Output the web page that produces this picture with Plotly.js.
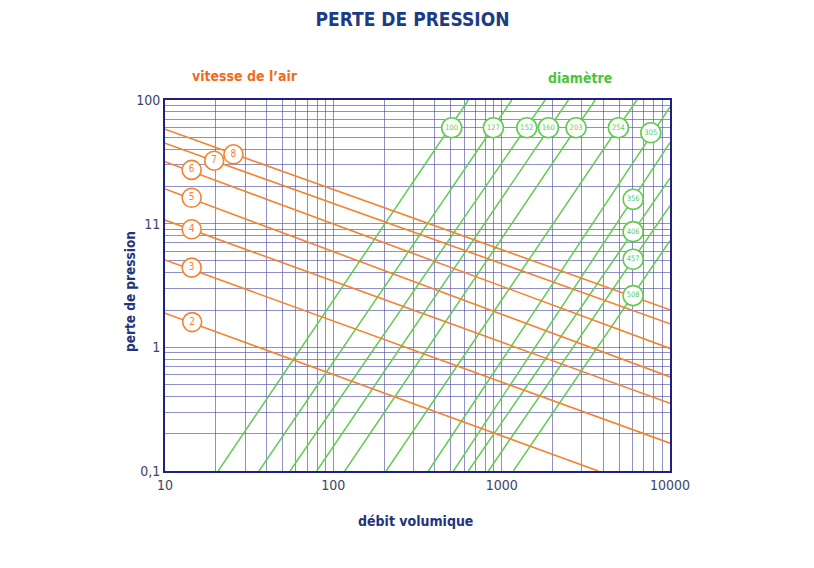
<!DOCTYPE html>
<html>
<head>
<meta charset="utf-8">
<script src="https://cdn.plot.ly/plotly-3.0.1.min.js"></script>
<style>
  html, body { margin: 0; padding: 0; background: #ffffff; }
  #chart { width: 814px; height: 568px; }
</style>
</head>
<body>
<div id="chart"></div>
<script>
// ---- Data ----
// Orange lines: air velocity (m/s)
var velocityLabels = ['2', '3', '4', '5', '6', '7', '8'];
var velStartFlow = [10, 10, 10, 10, 10, 10, 10];
var velStartLoss = [1.89, 5.09, 10.7, 19.1, 31.7, 44.7, 58.0];
var velEndFlow   = [3750, 10000, 10000, 10000, 10000, 10000, 10000];
var velEndLoss   = [0.1, 0.168, 0.353, 0.576, 0.98, 1.55, 2.01];
var velLabelFlow = [14.5, 14.4, 14.4, 14.4, 14.4, 19.6, 25.5];
var velLabelLoss = [1.60, 4.41, 9.01, 16.2, 27.2, 32.3, 36.4];

// Green lines: duct diameter (mm)
var diamLabels    = ['100', '127', '152', '160', '203', '254', '305', '356', '406', '457', '508'];
var diamStartFlow = [20.7, 36.2, 55.3, 79.7, 117, 206, 367, 517, 634, 834, 1173];
var diamStartLoss = [0.1, 0.1, 0.1, 0.1, 0.1, 0.1, 0.1, 0.1, 0.1, 0.1, 0.1];
var diamEndFlow   = [634, 1148, 1811, 2490, 3589, 6350, 10000, 10000, 10000, 10000, 10000];
var diamEndLoss   = [100, 100, 100, 100, 100, 100, 87.8, 45.2, 23.3, 14.0, 7.29];
var diamLabelFlow = [505, 893, 1410, 1895, 2767, 4937, 7691, 6039, 6039, 6039, 6039];
var diamLabelLoss = [59.7, 59.7, 59.7, 59.7, 59.7, 59.7, 54.4, 15.75, 8.62, 5.16, 2.62];

// Axis tick labels
var xTickValues = [10, 100, 1000, 10000];
var xTickLabels = ['10', '100', '1000', '10000'];
var yTickValues = [0.1, 1, 10, 100];
var yTickLabels = ['0,1', '1', '11', '100'];

// ---- Styles ----
var ORANGE = '#f5822e';
var GREEN = '#62cc52';
var NAVY = '#23357a';
var GRID = 'rgba(70,70,160,0.6)';
var FRAME = '#1f1f86';
var FONT = '"DejaVu Sans Condensed", "Liberation Sans Narrow", Roboto, sans-serif';

// grid values: all 1..9 multiples in each decade, labels only at decades
function logGrid(minExp, maxExp, labVals, labTexts) {
  var vals = [], texts = [];
  for (var e = minExp; e <= maxExp; e++) {
    for (var m = 1; m <= 9; m++) {
      if (e === maxExp && m > 1) break;
      var v = parseFloat((m * Math.pow(10, e)).toPrecision(6));
      vals.push(v);
      var idx = -1;
      for (var k = 0; k < labVals.length; k++) {
        if (Math.abs(labVals[k] - v) / v < 1e-6) idx = k;
      }
      texts.push(idx >= 0 ? labTexts[idx] : '');
    }
  }
  return {vals: vals, texts: texts};
}
var xg = logGrid(1, 4, xTickValues, xTickLabels);
var yg = logGrid(-1, 2, yTickValues, yTickLabels);

var traces = [];
// green diameter lines
for (var i = 0; i < diamLabels.length; i++) {
  traces.push({
    type: 'scatter', mode: 'lines',
    x: [diamStartFlow[i], diamEndFlow[i]],
    y: [diamStartLoss[i], diamEndLoss[i]],
    line: {color: GREEN, width: 1.5},
    hoverinfo: 'skip', showlegend: false
  });
}
// orange velocity lines
for (var j = 0; j < velocityLabels.length; j++) {
  traces.push({
    type: 'scatter', mode: 'lines',
    x: [velStartFlow[j], velEndFlow[j]],
    y: [velStartLoss[j], velEndLoss[j]],
    line: {color: ORANGE, width: 1.6},
    hoverinfo: 'skip', showlegend: false
  });
}
// labels
traces.push({
  type: 'scatter', mode: 'markers+text',
  x: diamLabelFlow, y: diamLabelLoss, text: diamLabels,
  textposition: 'middle center',
  textfont: {family: FONT, size: 7.5, color: GREEN},
  marker: {symbol: 'circle', size: 20, color: '#ffffff', line: {color: GREEN, width: 1.6}},
  hoverinfo: 'skip', showlegend: false, cliponaxis: false
});
traces.push({
  type: 'scatter', mode: 'markers+text',
  x: velLabelFlow, y: velLabelLoss, text: velocityLabels,
  textposition: 'middle center',
  textfont: {family: FONT, size: 10, color: ORANGE},
  marker: {symbol: 'circle', size: 19, color: '#ffffff', line: {color: ORANGE, width: 1.6}},
  hoverinfo: 'skip', showlegend: false, cliponaxis: false
});

var layout = {
  width: 814, height: 568,
  margin: {l: 165, r: 144, t: 100, b: 97},
  paper_bgcolor: '#ffffff', plot_bgcolor: '#ffffff',
  showlegend: false,
  title: {
    text: '<b>PERTE DE PRESSION</b>',
    font: {family: FONT, size: 19, color: '#1d3c86'},
    xref: 'container', x: 412.5 / 814, xanchor: 'center',
    yref: 'container', y: 1 - 19 / 568, yanchor: 'middle'
  },
  xaxis: {
    type: 'log', range: [1, 4],
    tickmode: 'array', tickvals: xg.vals, ticktext: xg.texts,
    ticks: '', showgrid: true, gridcolor: GRID, gridwidth: 1,
    zeroline: false, showline: true, mirror: true, linecolor: FRAME, linewidth: 2,
    tickfont: {family: FONT, size: 14, color: '#3e4466'},
    title: {text: '', font: {family: FONT, size: 14, color: NAVY}}
  },
  yaxis: {
    type: 'log', range: [-1, 2],
    tickmode: 'array', tickvals: yg.vals, ticktext: yg.texts,
    ticks: '', showgrid: true, gridcolor: GRID, gridwidth: 1,
    zeroline: false, showline: true, mirror: true, linecolor: FRAME, linewidth: 2,
    tickfont: {family: FONT, size: 14, color: '#3e4466'},
    title: {text: '', font: {family: FONT, size: 14, color: NAVY}}
  },
  annotations: [
    {text: '<b>vitesse de l\u2019air</b>', xref: 'paper', yref: 'paper',
     x: (190 - 165) / 505, y: 1 + (100 - 76) / 371, xanchor: 'left', yanchor: 'middle',
     showarrow: false, font: {family: FONT, size: 14, color: '#f26a1e'}},
    {text: '<b>diamètre</b>', xref: 'paper', yref: 'paper',
     x: (580 - 165) / 505, y: 1 + (100 - 78) / 371, xanchor: 'center', yanchor: 'middle',
     showarrow: false, font: {family: FONT, size: 14, color: '#4cc43c'}},
    {text: '<b>débit volumique</b>', xref: 'paper', yref: 'paper',
     x: (415 - 165) / 505, y: -(521 - 471) / 371, xanchor: 'center', yanchor: 'middle',
     showarrow: false, font: {family: FONT, size: 14, color: NAVY}},
    {text: '<b>perte de pression</b>', xref: 'paper', yref: 'paper', textangle: -90,
     x: -(165 - 130) / 505, y: (471 - 292) / 371, xanchor: 'center', yanchor: 'middle',
     showarrow: false, font: {family: FONT, size: 13.5, color: NAVY}}
  ]
};

Plotly.newPlot('chart', traces, layout, {displayModeBar: false, staticPlot: true});
</script>
</body>
</html>
